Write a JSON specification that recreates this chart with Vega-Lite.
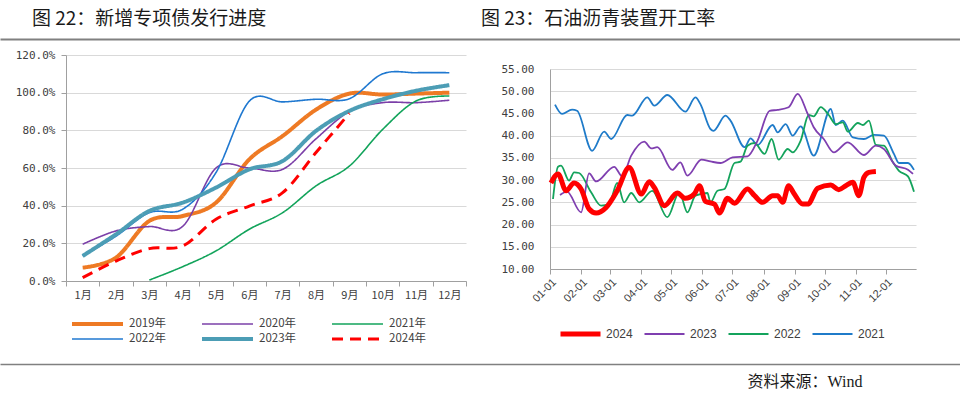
{
  "$schema": "https://vega.github.io/schema/vega-lite/v6.json",
  "padding": 0,
  "background": "white",
  "config": {
    "view": {"stroke": null},
    "axis": {"labelColor": "#404040", "domainColor": "#a0a0a0", "tickColor": "#a0a0a0", "gridColor": "#d9d9d9", "labelFont": "Noto Sans CJK SC", "labelFontSize": 11}
  },
  "datasets": {
    "progress": [
      {"series":"2019年","month":"1月","pct":0.071},{"series":"2019年","month":"2月","pct":0.124},{"series":"2019年","month":"3月","pct":0.319},{"series":"2019年","month":"4月","pct":0.345},{"series":"2019年","month":"5月","pct":0.416},{"series":"2019年","month":"6月","pct":0.646},{"series":"2019年","month":"7月","pct":0.77},{"series":"2019年","month":"8月","pct":0.91},{"series":"2019年","month":"9月","pct":0.995},{"series":"2019年","month":"10月","pct":0.99},{"series":"2019年","month":"11月","pct":0.995},{"series":"2019年","month":"12月","pct":1.0},
      {"series":"2020年","month":"1月","pct":0.195},{"series":"2020年","month":"2月","pct":0.266},{"series":"2020年","month":"3月","pct":0.289},{"series":"2020年","month":"4月","pct":0.29},{"series":"2020年","month":"5月","pct":0.60},{"series":"2020年","month":"6月","pct":0.60},{"series":"2020年","month":"7月","pct":0.593},{"series":"2020年","month":"8月","pct":0.755},{"series":"2020年","month":"9月","pct":0.90},{"series":"2020年","month":"10月","pct":0.947},{"series":"2020年","month":"11月","pct":0.947},{"series":"2020年","month":"12月","pct":0.96},
      {"series":"2021年","month":"3月","pct":0.005},{"series":"2021年","month":"4月","pct":0.076},{"series":"2021年","month":"5月","pct":0.16},{"series":"2021年","month":"6月","pct":0.275},{"series":"2021年","month":"7月","pct":0.363},{"series":"2021年","month":"8月","pct":0.505},{"series":"2021年","month":"9月","pct":0.61},{"series":"2021年","month":"10月","pct":0.805},{"series":"2021年","month":"11月","pct":0.956},{"series":"2021年","month":"12月","pct":0.982},
      {"series":"2022年","month":"1月","pct":0.133},{"series":"2022年","month":"2月","pct":0.238},{"series":"2022年","month":"3月","pct":0.363},{"series":"2022年","month":"4月","pct":0.381},{"series":"2022年","month":"5月","pct":0.576},{"series":"2022年","month":"6月","pct":0.955},{"series":"2022年","month":"7月","pct":0.951},{"series":"2022年","month":"8月","pct":0.965},{"series":"2022年","month":"9月","pct":0.968},{"series":"2022年","month":"10月","pct":1.10},{"series":"2022年","month":"11月","pct":1.106},{"series":"2022年","month":"12月","pct":1.106},
      {"series":"2023年","month":"1月","pct":0.133},{"series":"2023年","month":"2月","pct":0.248},{"series":"2023年","month":"3月","pct":0.372},{"series":"2023年","month":"4月","pct":0.416},{"series":"2023年","month":"5月","pct":0.496},{"series":"2023年","month":"6月","pct":0.593},{"series":"2023年","month":"7月","pct":0.637},{"series":"2023年","month":"8月","pct":0.797},{"series":"2023年","month":"9月","pct":0.903},{"series":"2023年","month":"10月","pct":0.965},{"series":"2023年","month":"11月","pct":1.01},{"series":"2023年","month":"12月","pct":1.04},
      {"series":"2024年","month":"1月","pct":0.018},{"series":"2024年","month":"2月","pct":0.106},{"series":"2024年","month":"3月","pct":0.172},{"series":"2024年","month":"4月","pct":0.186},{"series":"2024年","month":"5月","pct":0.328},{"series":"2024年","month":"6月","pct":0.398},{"series":"2024年","month":"7月","pct":0.469},{"series":"2024年","month":"8月","pct":0.682},{"series":"2024年","month":"9月","pct":0.89}
    ],
    "asphalt": [
      {"series":"2021","date":"2024/01/06","rate":47.0},{"series":"2021","date":"2024/01/13","rate":44.9},{"series":"2021","date":"2024/01/23","rate":45.85},{"series":"2021","date":"2024/01/28","rate":45.6},{"series":"2021","date":"2024/02/12","rate":36.6},{"series":"2021","date":"2024/02/24","rate":40.9},{"series":"2021","date":"2024/03/02","rate":39.25},{"series":"2021","date":"2024/03/18","rate":44.65},{"series":"2021","date":"2024/03/23","rate":44.5},{"series":"2021","date":"2024/04/07","rate":48.6},{"series":"2021","date":"2024/04/14","rate":46.75},{"series":"2021","date":"2024/04/27","rate":49.15},{"series":"2021","date":"2024/05/15","rate":45.4},{"series":"2021","date":"2024/05/25","rate":48.6},{"series":"2021","date":"2024/05/30","rate":47.1},{"series":"2021","date":"2024/06/09","rate":41.5},{"series":"2021","date":"2024/06/12","rate":41.1},{"series":"2021","date":"2024/06/24","rate":44.5},{"series":"2021","date":"2024/06/29","rate":43.4},{"series":"2021","date":"2024/07/13","rate":37.4},{"series":"2021","date":"2024/07/19","rate":39.4},{"series":"2021","date":"2024/07/26","rate":37.9},{"series":"2021","date":"2024/08/10","rate":42.4},{"series":"2021","date":"2024/08/15","rate":40.75},{"series":"2021","date":"2024/08/23","rate":42.6},{"series":"2021","date":"2024/08/30","rate":40.0},{"series":"2021","date":"2024/09/07","rate":42.1},{"series":"2021","date":"2024/09/20","rate":35.5},{"series":"2021","date":"2024/10/07","rate":46.0},{"series":"2021","date":"2024/10/12","rate":42.4},{"series":"2021","date":"2024/10/19","rate":43.4},{"series":"2021","date":"2024/10/29","rate":39.6},{"series":"2021","date":"2024/11/09","rate":39.25},{"series":"2021","date":"2024/11/19","rate":40.2},{"series":"2021","date":"2024/11/29","rate":40.0},{"series":"2021","date":"2024/12/09","rate":35.9},{"series":"2021","date":"2024/12/14","rate":33.85},{"series":"2021","date":"2024/12/23","rate":33.85},{"series":"2021","date":"2024/12/29","rate":32.3},
      {"series":"2022","date":"2024/01/04","rate":25.75},{"series":"2022","date":"2024/01/09","rate":33.0},{"series":"2022","date":"2024/01/12","rate":33.25},{"series":"2022","date":"2024/01/20","rate":29.9},{"series":"2022","date":"2024/01/25","rate":31.75},{"series":"2022","date":"2024/01/30","rate":31.6},{"series":"2022","date":"2024/02/11","rate":27.25},{"series":"2022","date":"2024/02/21","rate":24.25},{"series":"2022","date":"2024/02/29","rate":24.6},{"series":"2022","date":"2024/03/08","rate":29.35},{"series":"2022","date":"2024/03/15","rate":25.0},{"series":"2022","date":"2024/03/22","rate":27.1},{"series":"2022","date":"2024/03/30","rate":25.0},{"series":"2022","date":"2024/04/12","rate":27.6},{"series":"2022","date":"2024/04/27","rate":21.65},{"series":"2022","date":"2024/05/09","rate":27.25},{"series":"2022","date":"2024/05/17","rate":22.75},{"series":"2022","date":"2024/05/25","rate":26.5},{"series":"2022","date":"2024/06/06","rate":27.1},{"series":"2022","date":"2024/06/09","rate":25.0},{"series":"2022","date":"2024/06/16","rate":27.6},{"series":"2022","date":"2024/06/23","rate":28.0},{"series":"2022","date":"2024/07/03","rate":33.85},{"series":"2022","date":"2024/07/09","rate":34.15},{"series":"2022","date":"2024/07/16","rate":37.75},{"series":"2022","date":"2024/07/23","rate":38.35},{"series":"2022","date":"2024/08/02","rate":35.9},{"series":"2022","date":"2024/08/09","rate":39.25},{"series":"2022","date":"2024/08/16","rate":34.6},{"series":"2022","date":"2024/08/25","rate":37.0},{"series":"2022","date":"2024/08/30","rate":36.25},{"series":"2022","date":"2024/09/07","rate":38.9},{"series":"2022","date":"2024/09/15","rate":44.65},{"series":"2022","date":"2024/09/20","rate":44.35},{"series":"2022","date":"2024/09/27","rate":46.4},{"series":"2022","date":"2024/10/05","rate":44.65},{"series":"2022","date":"2024/10/12","rate":42.6},{"series":"2022","date":"2024/10/19","rate":43.0},{"series":"2022","date":"2024/10/24","rate":40.9},{"series":"2022","date":"2024/11/03","rate":42.85},{"series":"2022","date":"2024/11/08","rate":42.4},{"series":"2022","date":"2024/11/14","rate":43.4},{"series":"2022","date":"2024/11/21","rate":37.9},{"series":"2022","date":"2024/11/29","rate":37.75},{"series":"2022","date":"2024/12/08","rate":34.0},{"series":"2022","date":"2024/12/14","rate":32.1},{"series":"2022","date":"2024/12/23","rate":30.85},{"series":"2022","date":"2024/12/29","rate":27.4},
      {"series":"2023","date":"2024/01/11","rate":26.65},{"series":"2023","date":"2024/01/18","rate":27.4},{"series":"2023","date":"2024/02/01","rate":22.75},{"series":"2023","date":"2024/02/09","rate":31.5},{"series":"2023","date":"2024/02/16","rate":29.7},{"series":"2023","date":"2024/03/05","rate":33.0},{"series":"2023","date":"2024/03/13","rate":30.85},{"series":"2023","date":"2024/03/22","rate":35.5},{"series":"2023","date":"2024/04/04","rate":38.65},{"series":"2023","date":"2024/04/11","rate":37.15},{"series":"2023","date":"2024/04/17","rate":37.4},{"series":"2023","date":"2024/05/02","rate":32.3},{"series":"2023","date":"2024/05/10","rate":34.0},{"series":"2023","date":"2024/05/17","rate":31.0},{"series":"2023","date":"2024/05/31","rate":34.6},{"series":"2023","date":"2024/06/09","rate":34.2},{"series":"2023","date":"2024/06/19","rate":33.85},{"series":"2023","date":"2024/07/01","rate":35.1},{"series":"2023","date":"2024/07/16","rate":35.35},{"series":"2023","date":"2024/07/26","rate":38.9},{"series":"2023","date":"2024/08/07","rate":45.6},{"series":"2023","date":"2024/08/15","rate":45.8},{"series":"2023","date":"2024/08/26","rate":46.4},{"series":"2023","date":"2024/09/04","rate":49.4},{"series":"2023","date":"2024/09/14","rate":44.9},{"series":"2023","date":"2024/09/20","rate":41.9},{"series":"2023","date":"2024/09/30","rate":39.25},{"series":"2023","date":"2024/10/10","rate":36.25},{"series":"2023","date":"2024/10/24","rate":38.5},{"series":"2023","date":"2024/11/09","rate":35.65},{"series":"2023","date":"2024/11/21","rate":37.75},{"series":"2023","date":"2024/11/29","rate":37.0},{"series":"2023","date":"2024/12/11","rate":33.25},{"series":"2023","date":"2024/12/23","rate":32.35},{"series":"2023","date":"2024/12/28","rate":31.4},
      {"series":"2024","date":"2024/01/02","rate":29.35},{"series":"2024","date":"2024/01/09","rate":31.4},{"series":"2024","date":"2024/01/17","rate":27.6},{"series":"2024","date":"2024/01/25","rate":29.35},{"series":"2024","date":"2024/02/01","rate":28.0},{"series":"2024","date":"2024/02/09","rate":23.5},{"series":"2024","date":"2024/02/16","rate":22.6},{"series":"2024","date":"2024/02/26","rate":23.85},{"series":"2024","date":"2024/03/08","rate":27.6},{"series":"2024","date":"2024/03/20","rate":32.85},{"series":"2024","date":"2024/04/01","rate":26.85},{"series":"2024","date":"2024/04/09","rate":29.65},{"series":"2024","date":"2024/04/14","rate":28.35},{"series":"2024","date":"2024/04/24","rate":24.25},{"series":"2024","date":"2024/05/07","rate":27.1},{"series":"2024","date":"2024/05/15","rate":25.9},{"series":"2024","date":"2024/05/24","rate":26.9},{"series":"2024","date":"2024/05/29","rate":28.75},{"series":"2024","date":"2024/06/04","rate":25.2},{"series":"2024","date":"2024/06/13","rate":24.6},{"series":"2024","date":"2024/06/18","rate":22.6},{"series":"2024","date":"2024/06/26","rate":25.9},{"series":"2024","date":"2024/07/03","rate":24.8},{"series":"2024","date":"2024/07/16","rate":28.0},{"series":"2024","date":"2024/07/23","rate":26.5},{"series":"2024","date":"2024/07/31","rate":25.0},{"series":"2024","date":"2024/08/10","rate":26.5},{"series":"2024","date":"2024/08/15","rate":26.5},{"series":"2024","date":"2024/08/20","rate":25.0},{"series":"2024","date":"2024/08/26","rate":28.75},{"series":"2024","date":"2024/08/31","rate":27.1},{"series":"2024","date":"2024/09/09","rate":24.6},{"series":"2024","date":"2024/09/14","rate":24.6},{"series":"2024","date":"2024/09/24","rate":28.15},{"series":"2024","date":"2024/10/07","rate":28.9},{"series":"2024","date":"2024/10/15","rate":27.85},{"series":"2024","date":"2024/10/22","rate":28.75},{"series":"2024","date":"2024/10/29","rate":29.5},{"series":"2024","date":"2024/11/04","rate":26.5},{"series":"2024","date":"2024/11/09","rate":30.6},{"series":"2024","date":"2024/11/14","rate":31.75},{"series":"2024","date":"2024/11/21","rate":31.95}
    ]
  },
  "concat": [
    {
      "width": 894,
      "height": 39,
      "encoding": {
        "x": {"field": "panel", "type": "nominal", "bandPosition": 0, "scale": {"type": "band", "domain": ["a", "b"], "paddingInner": 0, "paddingOuter": 0, "range": [-66, 894]},
              "axis": {"orient": "bottom", "labels": false, "ticks": false, "grid": false, "title": null, "domain": true, "domainColor": "#808080", "domainWidth": 2}},
        "text": {"field": "title"}
      },
      "layer": [
        {
          "data": {"values": [{"panel": "a", "title": "图 22：新增专项债发行进度"}]},
          "mark": {"type": "text", "align": "left", "baseline": "middle", "dx": 32, "dy": -1, "font": "Noto Sans CJK SC", "fontSize": 19, "color": "#1a1a1a"}
        },
        {
          "data": {"values": [{"panel": "b", "title": "图 23：石油沥青装置开工率"}]},
          "mark": {"type": "text", "align": "left", "baseline": "middle", "dx": 1, "dy": -1, "font": "Noto Sans CJK SC", "fontSize": 19, "color": "#1a1a1a"}
        }
      ]
    },
    {
      "columns": 1,
      "align": "none",
      "spacing": 18,
      "concat": [
        {
          "columns": 2,
          "align": "none",
          "spacing": 23,
          "resolve": {"scale": {"color": "independent", "strokeWidth": "independent", "strokeDash": "independent"}},
          "concat": [
            {
              "width": 400,
              "height": 226,
              "data": {"name": "progress"},
              "mark": {"type": "line", "interpolate": "cardinal"},
              "encoding": {
                "x": {"field": "month", "type": "ordinal", "sort": ["1月","2月","3月","4月","5月","6月","7月","8月","9月","10月","11月","12月"],
                      "scale": {"type": "band", "paddingInner": 0, "paddingOuter": 0}, "bandPosition": 0.5,
                      "axis": {"title": null, "labelAngle": 0, "tickBand": "extent", "tickSize": 5, "labelPadding": 3, "grid": false}},
                "y": {"field": "pct", "type": "quantitative", "scale": {"domain": [0, 1.2]},
                      "axis": {"title": null, "values": [0, 0.2, 0.4, 0.6, 0.8, 1.0, 1.2], "format": ".1%", "labelFont": "DejaVu Sans Mono", "labelFontSize": 11, "tickSize": 5, "labelPadding": 6, "minExtent": 66, "grid": true}},
                "color": {"field": "series", "type": "nominal",
                          "scale": {"domain": ["2019年","2020年","2021年","2022年","2023年","2024年"], "range": ["#EE7A24","#7B3FA8","#11A35A","#1F78D0","#4C9DB5","#FF0000"]},
                          "legend": {"orient": "none", "legendX": 4, "legendY": 262, "direction": "horizontal", "columns": 3, "title": null, "symbolType": "stroke", "symbolSize": 2600, "clipHeight": 14, "rowPadding": 1, "columnPadding": 33, "labelOffset": 4, "labelFont": "Noto Sans CJK SC", "labelFontSize": 11.5, "labelColor": "#404040", "padding": 0}},
                "strokeWidth": {"field": "series", "type": "nominal",
                          "scale": {"type": "ordinal", "domain": ["2019年","2020年","2021年","2022年","2023年","2024年"], "range": [4, 1.6, 1.6, 1.6, 4, 3]},
                          "legend": {"orient": "none", "legendX": 4, "legendY": 262, "direction": "horizontal", "columns": 3, "title": null, "symbolType": "stroke", "symbolSize": 2600, "clipHeight": 14, "rowPadding": 1, "columnPadding": 33, "labelOffset": 4, "labelFont": "Noto Sans CJK SC", "labelFontSize": 11.5, "labelColor": "#404040", "padding": 0}},
                "strokeDash": {"field": "series", "type": "nominal",
                          "scale": {"domain": ["2019年","2020年","2021年","2022年","2023年","2024年"], "range": [[1,0],[1,0],[1,0],[1,0],[1,0],[11,7]]},
                          "legend": {"orient": "none", "legendX": 4, "legendY": 262, "direction": "horizontal", "columns": 3, "title": null, "symbolType": "stroke", "symbolSize": 2600, "clipHeight": 14, "rowPadding": 1, "columnPadding": 33, "labelOffset": 4, "labelFont": "Noto Sans CJK SC", "labelFontSize": 11.5, "labelColor": "#404040", "padding": 0}}
              }
            },
            {
              "width": 366,
              "height": 214,
              "data": {"name": "asphalt"},
              "mark": {"type": "line", "interpolate": "monotone"},
              "encoding": {
                "x": {"field": "date", "type": "temporal",
                      "scale": {"domain": [{"year": 2024, "month": 1, "date": 1}, {"year": 2024, "month": 12, "date": 31}]},
                      "axis": {"title": null, "format": "%m-%d", "labelAngle": -45, "tickSize": 5, "labelPadding": 2, "grid": false, "labelFont": "Liberation Sans", "labelFontSize": 11,
                               "values": [{"year":2024,"month":1,"date":1},{"year":2024,"month":2,"date":1},{"year":2024,"month":3,"date":1},{"year":2024,"month":4,"date":1},{"year":2024,"month":5,"date":1},{"year":2024,"month":6,"date":1},{"year":2024,"month":7,"date":1},{"year":2024,"month":8,"date":1},{"year":2024,"month":9,"date":1},{"year":2024,"month":10,"date":1},{"year":2024,"month":11,"date":1},{"year":2024,"month":12,"date":1}]}},
                "y": {"field": "rate", "type": "quantitative", "scale": {"domain": [10, 55], "range": [214, 14]},
                      "axis": {"title": null, "values": [10, 15, 20, 25, 30, 35, 40, 45, 50, 55], "format": ".2f", "labelFont": "DejaVu Sans Mono", "labelFontSize": 11, "ticks": false, "labelPadding": 16, "minExtent": 60, "grid": true}},
                "color": {"field": "series", "type": "nominal",
                          "scale": {"domain": ["2024","2023","2022","2021"], "range": ["#FF0000","#7F3FB0","#14A35C","#1F7BC9"]},
                          "legend": {"orient": "none", "legendX": 8, "legendY": 272, "direction": "horizontal", "columns": 4, "title": null, "symbolType": "stroke", "symbolSize": 1600, "clipHeight": 14, "columnPadding": 9, "labelOffset": 3, "labelFont": "Liberation Sans", "labelFontSize": 12, "labelColor": "#404040", "padding": 0}},
                "strokeWidth": {"field": "series", "type": "nominal",
                          "scale": {"type": "ordinal", "domain": ["2024","2023","2022","2021"], "range": [5, 1.8, 1.8, 1.8]},
                          "legend": {"orient": "none", "legendX": 8, "legendY": 272, "direction": "horizontal", "columns": 4, "title": null, "symbolType": "stroke", "symbolSize": 1600, "clipHeight": 14, "columnPadding": 9, "labelOffset": 3, "labelFont": "Liberation Sans", "labelFontSize": 12, "labelColor": "#404040", "padding": 0}}
              }
            }
          ]
        },
        {
          "width": 894,
          "height": 36,
          "data": {"values": [{"slot": "b", "note": "资料来源：Wind"}]},
          "mark": {"type": "text", "align": "center", "baseline": "middle", "dx": 85, "font": "Liberation Serif, Noto Sans CJK SC", "fontSize": 16, "color": "#1a1a1a"},
          "encoding": {
            "x": {"field": "slot", "type": "nominal", "scale": {"type": "band", "domain": ["a", "b"], "paddingInner": 0, "paddingOuter": 0, "range": [-66, 894]},
                  "axis": {"orient": "top", "labels": false, "ticks": false, "grid": false, "title": null, "domain": true, "domainColor": "#808080", "domainWidth": 1.5}},
            "text": {"field": "note"}
          }
        }
      ]
    }
  ],
  "columns": 1,
  "align": "none",
  "spacing": 10
}
